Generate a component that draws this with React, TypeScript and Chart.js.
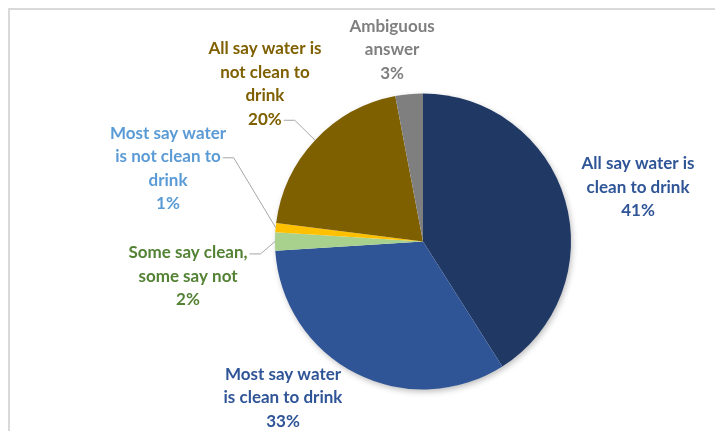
import React, { useEffect, useRef } from "react";
import { Chart, registerables } from "chart.js";

Chart.register(...registerables);

const categories = [
  "All say water is clean to drink",
  "Most say water is clean to drink",
  "Some say clean, some say not",
  "Most say water is not clean to drink",
  "All say water is not clean to drink",
  "Ambiguous answer",
];
const values = [41, 33, 2, 1, 20, 3];
const labelLines = [
  ["All say water is", "clean to drink"],
  ["Most say water", "is clean to drink"],
  ["Some say clean,", "some say not"],
  ["Most say water", "is not clean to", "drink"],
  ["All say water is", "not clean to", "drink"],
  ["Ambiguous", "answer"],
];
const sliceColors = ["#203864", "#2F5597", "#A9D18E", "#FFC000", "#7F6000", "#7F7F7F"];
const labelColors = ["#2F5597", "#2F5597", "#548235", "#5B9BD5", "#7F6000", "#7F7F7F"];

// label block centre, in units of the pie radius from the pie centre
const labelOffsets = [
  [1.453, -0.365],
  [-0.946, 1.057],
  [-1.588, 0.236],
  [-1.723, -0.493],
  [-1.068, -1.064],
  [-0.209, -1.294],
];
// which text line the leader line attaches to (-1 = none)
const leaderLine = [-1, -1, 0, 1, 3, -1];

const FONT = "bold 17px Lato, 'Open Sans', sans-serif";
const LINE_H = 23.5;

const shadowPlugin = {
  id: "pieShadow",
  beforeDatasetsDraw(chart: any) {
    const meta = chart.getDatasetMeta(0);
    const arc = meta.data[0];
    if (!arc) return;
    const { x, y, outerRadius } = arc.getProps(["x", "y", "outerRadius"], true);
    const ctx = chart.ctx;
    ctx.save();
    ctx.shadowColor = "rgba(0,0,0,0.28)";
    ctx.shadowBlur = 6;
    ctx.shadowOffsetX = 1.5;
    ctx.shadowOffsetY = 2.5;
    ctx.beginPath();
    ctx.arc(x, y, outerRadius - 0.5, 0, Math.PI * 2);
    ctx.fillStyle = "#ffffff";
    ctx.fill();
    ctx.restore();
  },
};

const labelPlugin = {
  id: "outsideLabels",
  afterDatasetsDraw(chart: any) {
    const meta = chart.getDatasetMeta(0);
    const ctx = chart.ctx;
    const total = values.reduce((a, b) => a + b, 0);
    ctx.save();
    ctx.font = FONT;
    ctx.textAlign = "center";
    ctx.textBaseline = "middle";
    meta.data.forEach((arc: any, i: number) => {
      const { x, y, outerRadius, startAngle, endAngle } = arc.getProps(
        ["x", "y", "outerRadius", "startAngle", "endAngle"],
        true
      );
      const lines = [...labelLines[i], Math.round((values[i] / total) * 100) + "%"];
      const cx = x + labelOffsets[i][0] * outerRadius;
      const cy = y + labelOffsets[i][1] * outerRadius;
      const top = cy - ((lines.length - 1) * LINE_H) / 2;
      ctx.fillStyle = labelColors[i];
      lines.forEach((t, k) => ctx.fillText(t, cx, top + k * LINE_H));
      const li = leaderLine[i];
      if (li >= 0) {
        const w = ctx.measureText(lines[li]).width;
        const sx = cx + w / 2 + 2;
        const sy = top + li * LINE_H + 1;
        const mid = (startAngle + endAngle) / 2;
        const ex = x + Math.cos(mid) * outerRadius;
        const ey = y + Math.sin(mid) * outerRadius;
        ctx.beginPath();
        ctx.moveTo(sx, sy);
        ctx.lineTo(sx + 11, sy);
        ctx.lineTo(ex, ey);
        ctx.strokeStyle = "#A6A6A6";
        ctx.lineWidth = 1;
        ctx.stroke();
      }
    });
    ctx.restore();
  },
};

export default function App() {
  const ref = useRef<HTMLCanvasElement>(null);
  useEffect(() => {
    if (!ref.current) return;
    const chart = new Chart(ref.current, {
      type: "pie",
      data: {
        labels: categories,
        datasets: [
          {
            data: values,
            backgroundColor: sliceColors,
            borderWidth: 0,
          },
        ],
      },
      options: {
        animation: false,
        responsive: false,
        layout: { padding: { left: 265, right: 152, top: 83.5, bottom: 41.5 } },
        plugins: {
          legend: { display: false },
          tooltip: { enabled: false },
        },
      },
      plugins: [shadowPlugin, labelPlugin],
    });
    return () => chart.destroy();
  }, []);
  return (
    <div
      style={{
        position: "relative",
        width: 713,
        height: 421,
        borderLeft: "2px solid #D9D9D9",
        borderTop: "2px solid #D9D9D9",
        overflow: "hidden",
      }}
    >
      <canvas ref={ref} width={713} height={421} style={{ display: "block" }} />
    </div>
  );
}
